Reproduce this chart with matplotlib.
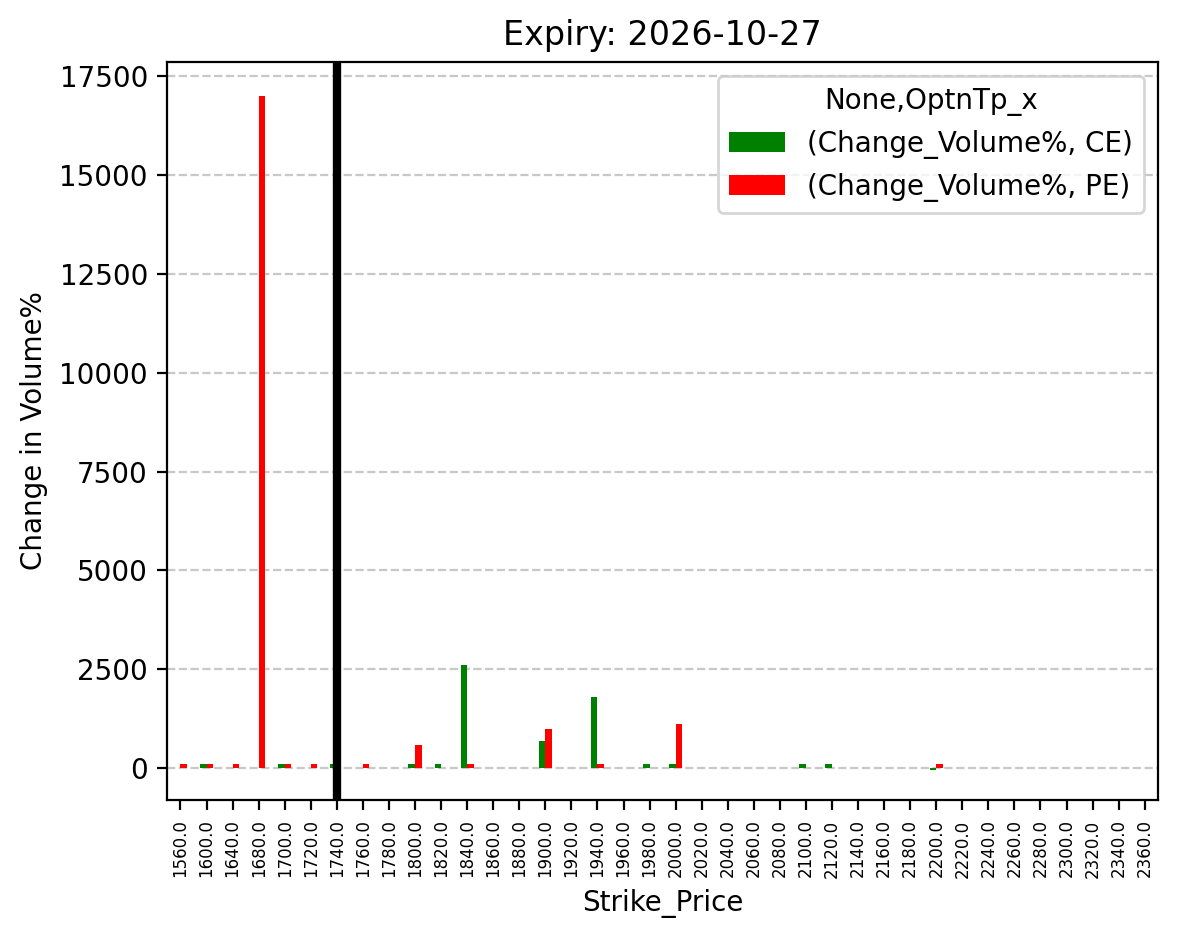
import matplotlib
matplotlib.use("Agg")
import matplotlib.pyplot as plt
import numpy as np

strikes = [1560,1600,1640,1680,1700,1720] + list(range(1740, 2361, 20))
ce_vals = {1600:100,1700:100,1740:100,1800:100,1820:100,1840:2600,1900:680,1940:1800,
           1980:100,2000:100,2100:100,2120:100,2200:-30}
pe_vals = {1560:100,1600:100,1640:100,1680:17000,1700:100,1720:100,1760:100,1800:600,
           1840:100,1900:1000,1940:100,2000:1130,2200:100}
ce = [ce_vals.get(s, 0) for s in strikes]
pe = [pe_vals.get(s, 0) for s in strikes]
labels = [f"{float(s):.1f}" for s in strikes]
spot_strike = 1740

fig, ax = plt.subplots(figsize=(5.895, 4.695), dpi=200)
x = np.arange(len(strikes))
w = 0.25
ax.bar(x - w/2, ce, w, color='green', label='(Change_Volume%, CE)')
ax.bar(x + w/2, pe, w, color='red', label='(Change_Volume%, PE)')
ax.set_xlim(-0.5, len(strikes)-0.5)
ax.set_ylim(-800, 17850)
ax.set_xticks(x)
ax.set_xticklabels(labels, rotation=90, fontsize=6)
ax.axvline(strikes.index(spot_strike), color='black', linewidth=3)
ax.yaxis.grid(True, linestyle='--', color='#c8c8c8')
ax.set_axisbelow(True)
ax.set_xlabel('Strike_Price')
ax.set_ylabel('Change in Volume%')
ax.set_title('Expiry: 2026-10-27', fontsize=12)
ax.legend(title='None,OptnTp_x', loc='upper right')
fig.subplots_adjust(left=0.142, right=0.982, top=0.934, bottom=0.148)
fig.savefig('out.png')
